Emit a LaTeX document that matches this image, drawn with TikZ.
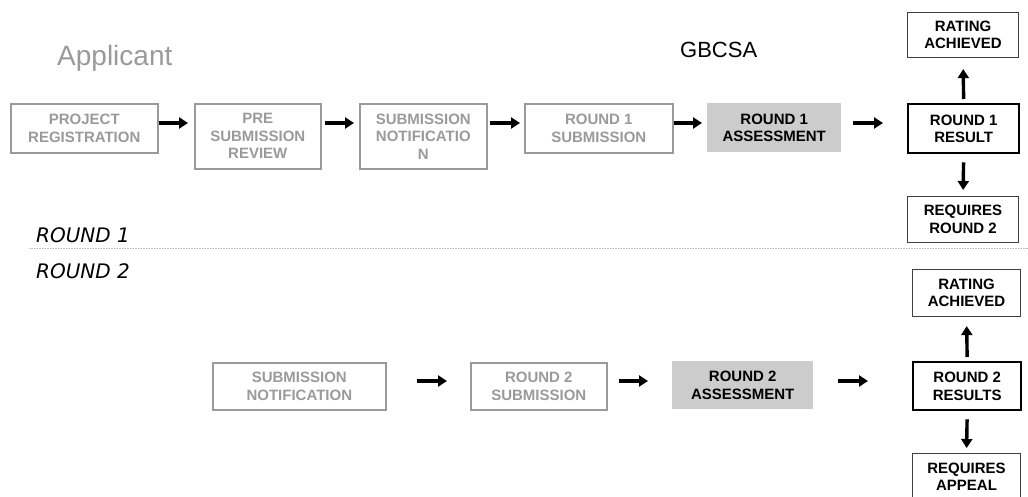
\documentclass[tikz,border=0pt]{standalone}
\usepackage{fontspec}
\setmainfont{Liberation Sans}
\newfontfamily\roundfont{DejaVu Sans}
\usepackage{xcolor}
\usepackage{tikz}
\usetikzlibrary{positioning,arrows.meta}
\definecolor{appgray}{HTML}{9A9A9A}
\definecolor{gbfill}{HTML}{CCCCCC}
\definecolor{rule}{HTML}{BDBDBD}

\begin{document}
\begin{tikzpicture}[x=1pt, y=-1pt,
  every node/.style={inner sep=0pt, align=center, anchor=north west,
    font=\fontsize{15}{17.5}\selectfont\bfseries},
  appbox/.style={draw=appgray, line width=1.6pt, text=appgray},
  gbbox/.style={fill=gbfill, text=black},
  resbox/.style={draw=black, line width=2.4pt},
  outbox/.style={draw=black!75, line width=1.1pt},
  flow/.style={line width=3.4pt, -{Triangle[length=9pt,width=11pt]}}]
  \useasboundingbox (0,0) rectangle (1028,496);

  \node[font=\fontsize{28}{30}\selectfont, text=appgray, anchor=base west] (app) at (57,65) {Applicant};
  \node[font=\fontsize{22}{24}\selectfont, anchor=base west] (gb) at (680,57) {GBCSA};

  \node[appbox, minimum width=147pt, minimum height=49pt] (reg) at (10,103)  {PROJECT\\REGISTRATION};
  \node[appbox, minimum width=126pt, minimum height=65pt] (pre) at (194,103) {PRE\\SUBMISSION\\REVIEW};
  \node[appbox, minimum width=127pt, minimum height=65pt] (subn) at (359,103) {SUBMISSION\\NOTIFICATIO\\N};
  \node[appbox, minimum width=148pt, minimum height=49pt] (sub1) at (524,103) {ROUND 1\\SUBMISSION};
  \node[gbbox, minimum width=134pt, minimum height=49pt] (ass1) at (707,103) {ROUND 1\\ASSESSMENT};
  \node[resbox, minimum width=111pt, minimum height=49pt] (res1) at (907,103) {ROUND 1\\RESULT};
  \node[outbox, minimum width=111pt, minimum height=45pt] (rat1) at (907,12)  {RATING\\ACHIEVED};
  \node[outbox, minimum width=111pt, minimum height=46pt] (req2) at (907,196) {REQUIRES\\ROUND 2};

  \draw[flow, shorten >=6pt] ([yshift=-20pt]reg.north east) -- ([yshift=-20pt]reg.north east -| pre.west);
  \draw[flow, shorten <=3pt, shorten >=5pt] ([yshift=-20pt]pre.north east) -- ([yshift=-20pt]subn.north west);
  \draw[flow, shorten <=2pt, shorten >=4pt] ([yshift=-20pt]subn.north east) -- ([yshift=-20pt]sub1.north west);
  \draw[flow, shorten >=5pt] ([yshift=-20pt]sub1.north east) -- ([yshift=-20pt]ass1.north west);
  \draw[flow, shorten <=12pt, shorten >=24pt] ([yshift=-20pt]ass1.north east) -- ([yshift=-20pt]res1.north west);
  \draw[flow, shorten <=4pt, shorten >=11pt] (res1.north) -- (rat1.south);
  \draw[flow, shorten <=8pt, shorten >=6pt] (res1.south) -- (req2.north);

  \coordinate (ruleL) at (29,248.5);
  \coordinate (ruleR) at (1028,248.5);
  \draw[rule, densely dotted, line width=0.6pt] (ruleL) -- (ruleR);
  \node[font=\fontsize{20}{22}\selectfont\roundfont\itshape, anchor=base west] (r1) at (36,242) {ROUND 1};
  \node[font=\fontsize{20}{22}\selectfont\roundfont\itshape, anchor=base west] (r2) at (36,278) {ROUND 2};

  \node[appbox, minimum width=173pt, minimum height=47pt] (subn2) at (212,362) {SUBMISSION\\NOTIFICATION};
  \node[appbox, minimum width=136pt, minimum height=47pt] (sub2) at (470,362) {ROUND 2\\SUBMISSION};
  \node[gbbox, minimum width=141pt, minimum height=48pt] (ass2) at (672,361) {ROUND 2\\ASSESSMENT};
  \node[resbox, minimum width=108pt, minimum height=48pt] (res2) at (912,361) {ROUND 2\\RESULTS};
  \node[outbox, minimum width=108pt, minimum height=47pt] (rat2) at (912,269) {RATING\\ACHIEVED};
  \node[outbox, minimum width=108pt, minimum height=46pt] (reqa) at (912,453) {REQUIRES\\APPEAL};

  \draw[flow, shorten <=30pt, shorten >=23pt] ([yshift=-19pt]subn2.north east) -- ([yshift=-19pt]sub2.north west);
  \draw[flow, shorten <=11pt, shorten >=24pt] ([yshift=-19pt]sub2.north east) -- ([yshift=-19pt]sub2.north east -| ass2.west);
  \draw[flow, shorten <=25pt, shorten >=44pt] ([yshift=-20pt]ass2.north east) -- ([yshift=-20pt]res2.north west);
  \draw[flow, shorten <=4pt, shorten >=9pt] (res2.north) -- (rat2.south);
  \draw[flow, shorten <=8pt, shorten >=5pt] (res2.south) -- (reqa.north);
\end{tikzpicture}
\end{document}
